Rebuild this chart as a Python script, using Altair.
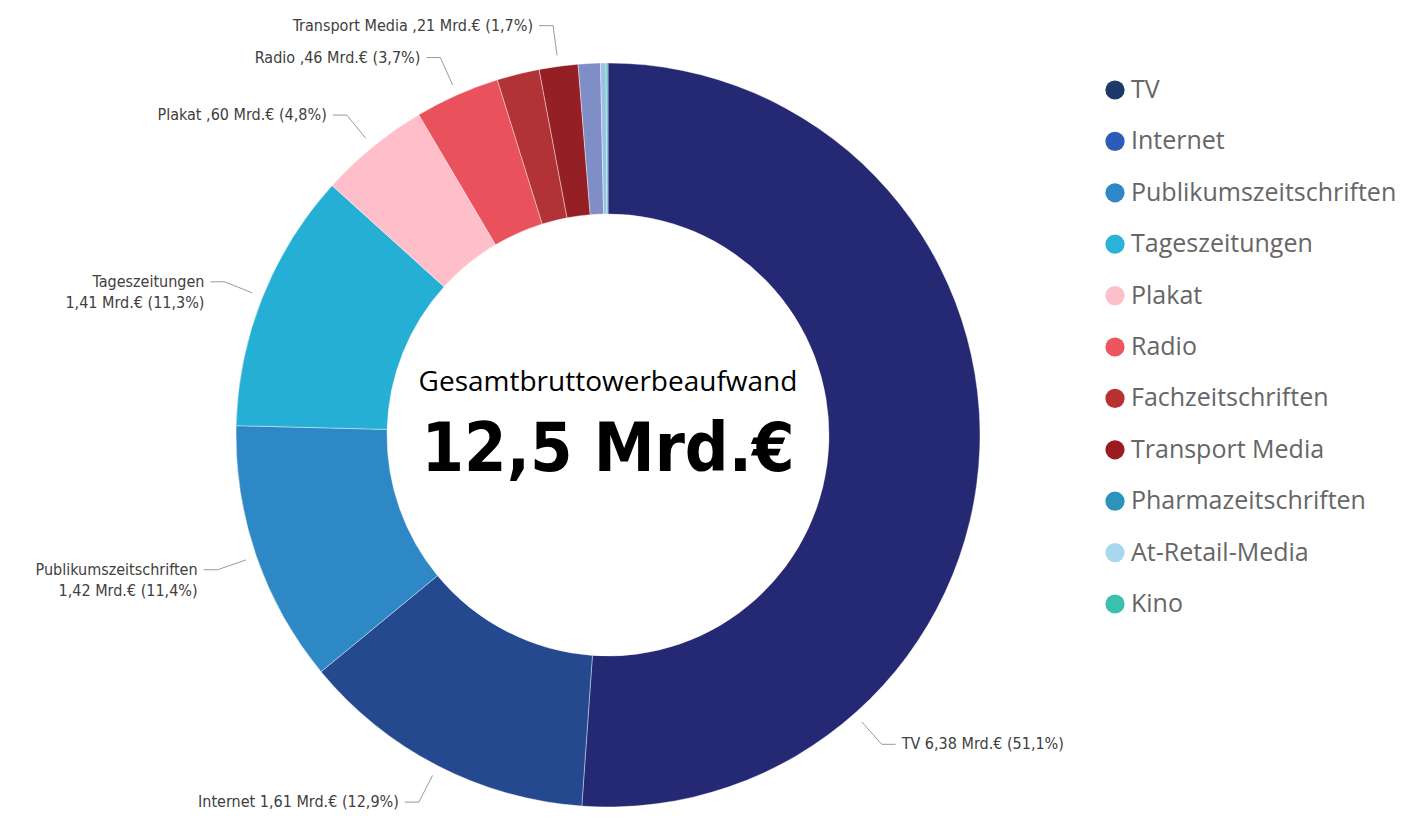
import math
import altair as alt
import pandas as pd

# ---------------- data ----------------
names = ["TV", "Internet", "Publikumszeitschriften", "Tageszeitungen", "Plakat",
         "Radio", "Fachzeitschriften", "Transport Media", "Pharmazeitschriften",
         "At-Retail-Media", "Kino"]
values = [6.38, 1.61, 1.42, 1.41, 0.60, 0.46, 0.23, 0.21, 0.12, 0.03, 0.01]
labelled = ["TV", "Internet", "Publikumszeitschriften", "Tageszeitungen", "Plakat",
            "Radio", "Transport Media"]
wrapped = ["Publikumszeitschriften", "Tageszeitungen"]
center_title = "Gesamtbruttowerbeaufwand"
unit = "Mrd.€"

# ---------------- style ----------------
slice_colors = ["#252872", "#24498F", "#2E88C5", "#25AFD4", "#FEBFCB", "#E9525C",
                "#B23336", "#941F24", "#7F8EC6", "#9DC0E8", "#4FC1B0"]
legend_colors = ["#1B3A6B", "#2C5CB8", "#2E87C8", "#2BB2D8", "#FDBFC9", "#EE555F",
                 "#B93030", "#9C1B20", "#2C93BE", "#A8D8F0", "#3CC0AE"]
W, H = 1400, 802
CX, CY = 600, 427
R_OUT, R_IN = 372, 221
R_LEAD0, R_LEAD1 = 383, 413
HOOK, GAP = 14, 6
ANGLE_OVERRIDE = {"TV": 138.5}
LABEL_FONT = "DejaVu Sans Condensed"
BIG_FONT = "DejaVu Sans Condensed"
LEG_X_SYM, LEG_X_TXT = 507, 523
LEG_Y0, LEG_STEP = -345, 51.4


def de_num(v, digits):
    return f"{v:.{digits}f}".replace(".", ",")


total = sum(values)
rows, lines, labels = [], [], []
cum = 0.0
for i, (n, v) in enumerate(zip(names, values)):
    rows.append({"name": n, "value": v, "idx": i, "lc": legend_colors[i],
                 "lx": LEG_X_SYM, "tx": LEG_X_TXT, "ly": LEG_Y0 + i * LEG_STEP})
    mid = (cum + v / 2) / total * 360
    cum += v
    if n not in labelled:
        continue
    a = math.radians(ANGLE_OVERRIDE.get(n, mid))
    s, c = math.sin(a), -math.cos(a)
    side = 1 if s > 0 else -1
    p0 = (R_LEAD0 * s, R_LEAD0 * c)
    p1 = (R_LEAD1 * s, R_LEAD1 * c)
    p2 = (p1[0] + side * HOOK, p1[1])
    for k, p in enumerate([p0, p1, p2]):
        lines.append({"name": n, "step": k, "x": p[0], "y": p[1]})
    val = de_num(v, 2)
    if val.startswith("0"):
        val = val[1:]
    pct = de_num(100 * v / total, 1)
    sep = "\n" if n in wrapped else " "
    labels.append({"name": n, "x": p2[0] + side * GAP, "y": p2[1],
                   "side": "right" if side > 0 else "left",
                   "label": f"{n}{sep}{val} {unit} ({pct}%)"})

df = pd.DataFrame(rows)
df_lines = pd.DataFrame(lines)
df_labels = pd.DataFrame(labels)

xs = alt.Scale(domain=[-CX, W - CX], nice=False, zero=False)
ys = alt.Scale(domain=[-CY, H - CY], nice=False, zero=False, reverse=True)

arcs = alt.Chart(df).mark_arc(radius=R_OUT, radius2=R_IN, stroke="white",
                              strokeWidth=0.4).encode(
    theta=alt.Theta("value:Q", stack=True),
    order=alt.Order("idx:Q", sort="ascending"),
    color=alt.Color("name:N", scale=alt.Scale(domain=names, range=slice_colors),
                    legend=None),
    x=alt.value(CX),
    y=alt.value(CY),
)

legend_dots = alt.Chart(df).mark_circle(size=370, opacity=1).encode(
    x=alt.X("lx:Q", scale=xs, axis=None),
    y=alt.Y("ly:Q", scale=ys, axis=None),
    fill=alt.Fill("lc:N", scale=None, legend=None),
)

legend_text = alt.Chart(df).mark_text(
    align="left", baseline="middle", font="Open Sans", fontSize=25, color="#666666"
).encode(
    x=alt.X("tx:Q", scale=xs, axis=None),
    y=alt.Y("ly:Q", scale=ys, axis=None),
    text="name:N",
)

leader = alt.Chart(df_lines).mark_line(color="#9a9a9a", strokeWidth=1).encode(
    x=alt.X("x:Q", scale=xs, axis=None),
    y=alt.Y("y:Q", scale=ys, axis=None),
    detail="name:N",
    order="step:Q",
)


def label_layer(side, align):
    return alt.Chart(df_labels).transform_filter(
        alt.datum.side == side
    ).mark_text(align=align, baseline="middle", font=LABEL_FONT, fontSize=16,
                color="#404040", lineBreak="\n", lineHeight=21).encode(
        x=alt.X("x:Q", scale=xs, axis=None),
        y=alt.Y("y:Q", scale=ys, axis=None),
        text="label:N",
    )


title_text = alt.Chart(pd.DataFrame({"t": [center_title]})).mark_text(
    font="Open Sans", fontSize=28, color="#000000", baseline="middle"
).encode(
    x=alt.XDatum(0, type="quantitative", scale=xs, axis=None),
    y=alt.YDatum(-52, type="quantitative", scale=ys, axis=None),
    text="t:N",
)

total_text = alt.Chart(pd.DataFrame({"t": [f"{de_num(total, 1)} {unit}"]})).mark_text(
    font=BIG_FONT, fontWeight="bold", fontSize=68, color="#000000",
    baseline="middle"
).encode(
    x=alt.XDatum(0, type="quantitative", scale=xs, axis=None),
    y=alt.YDatum(16, type="quantitative", scale=ys, axis=None),
    text="t:N",
)

chart = alt.layer(
    arcs, legend_dots, legend_text, leader, label_layer("left", "right"),
    label_layer("right", "left"), title_text, total_text
).properties(
    width=W, height=H, padding=0, autosize="none"
).configure_view(stroke=None)

chart.save("out.html", embed_options={"renderer": "svg", "actions": False})
